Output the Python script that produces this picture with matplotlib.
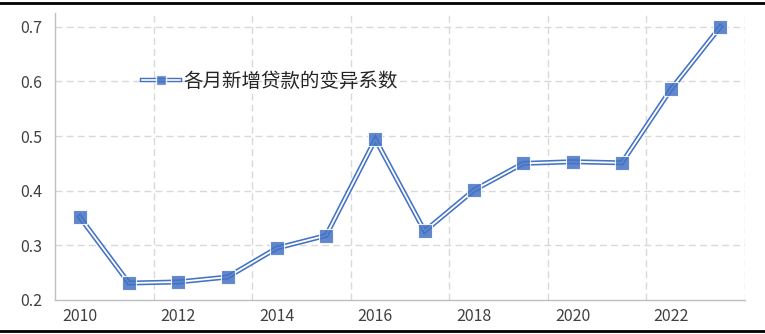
import matplotlib.pyplot as plt
from matplotlib.lines import Line2D

plt.rcParams['font.family'] = ['Noto Sans CJK SC', 'DejaVu Sans']

years = ['2010', '2011', '2012', '2013', '2014', '2015', '2016',
         '2017', '2018', '2019', '2020', '2021', '2022', '2023']
cv = [0.352, 0.231, 0.233, 0.242, 0.295, 0.318, 0.494,
      0.326, 0.401, 0.450, 0.453, 0.451, 0.586, 0.700]
label = '各月新增贷款的变异系数'

blue = '#4472C4'
x = list(range(len(years)))

fig = plt.figure(figsize=(7.65, 3.34), dpi=100)
ax = fig.add_axes([0.0719, 0.1018, 0.902, 0.859])

# 双线效果：蓝色粗线 + 白色细线
ax.plot(x, cv, color=blue, lw=3.6, solid_joinstyle='miter', zorder=3)
ax.plot(x, cv, color='white', lw=1.3, solid_joinstyle='miter', zorder=4)
ax.plot(x, cv, ls='none', marker='s', ms=10.5, mfc=blue, mec='white',
        mew=0.8, alpha=0.85, zorder=5)

ax.set_xlim(-0.5, len(years) - 0.5)
ax.set_ylim(0.2, 0.725)
ax.set_yticks([0.2, 0.3, 0.4, 0.5, 0.6, 0.7])
ax.set_yticklabels(['0.2', '0.3', '0.4', '0.5', '0.6', '0.7'])
ax.set_xticks(x[::2])
ax.set_xticklabels(years[::2])
ax.tick_params(length=0, labelsize=11.5, labelcolor='#404040')
ax.tick_params(axis='x', pad=6)
ax.tick_params(axis='y', pad=9)

# 网格
for yv in [0.3, 0.4, 0.5, 0.6, 0.7]:
    ax.axhline(yv, color='#d9d9d9', lw=1, ls=(0, (5, 3)), zorder=1)
for xv in [1.5, 3.5, 5.5, 7.5, 9.5, 11.5, 13.5]:
    ax.axvline(xv, color='#d9d9d9', lw=1, ls=(0, (5, 3)), zorder=1)

for s in ['top', 'right']:
    ax.spines[s].set_visible(False)
for s in ['left', 'bottom']:
    ax.spines[s].set_color('#bfbfbf')
    ax.spines[s].set_linewidth(1)

h = (Line2D([], [], color=blue, lw=3.2),
     Line2D([], [], color='white', lw=1.2),
     Line2D([], [], ls='none', marker='s', ms=7, mfc=blue, mec='white', alpha=0.85))
ax.legend([h], [label], loc='upper left', bbox_to_anchor=(0.1, 0.86),
          frameon=False, fontsize=14, handlelength=2.0, handletextpad=0.15,
          labelcolor='#262626')

# 上下边框
fig.add_artist(Line2D([0, 1], [0.991, 0.991], color='black', lw=2, transform=fig.transFigure))
fig.add_artist(Line2D([0, 1], [0.009, 0.009], color='black', lw=2, transform=fig.transFigure))

plt.savefig('out.png', dpi=100)
